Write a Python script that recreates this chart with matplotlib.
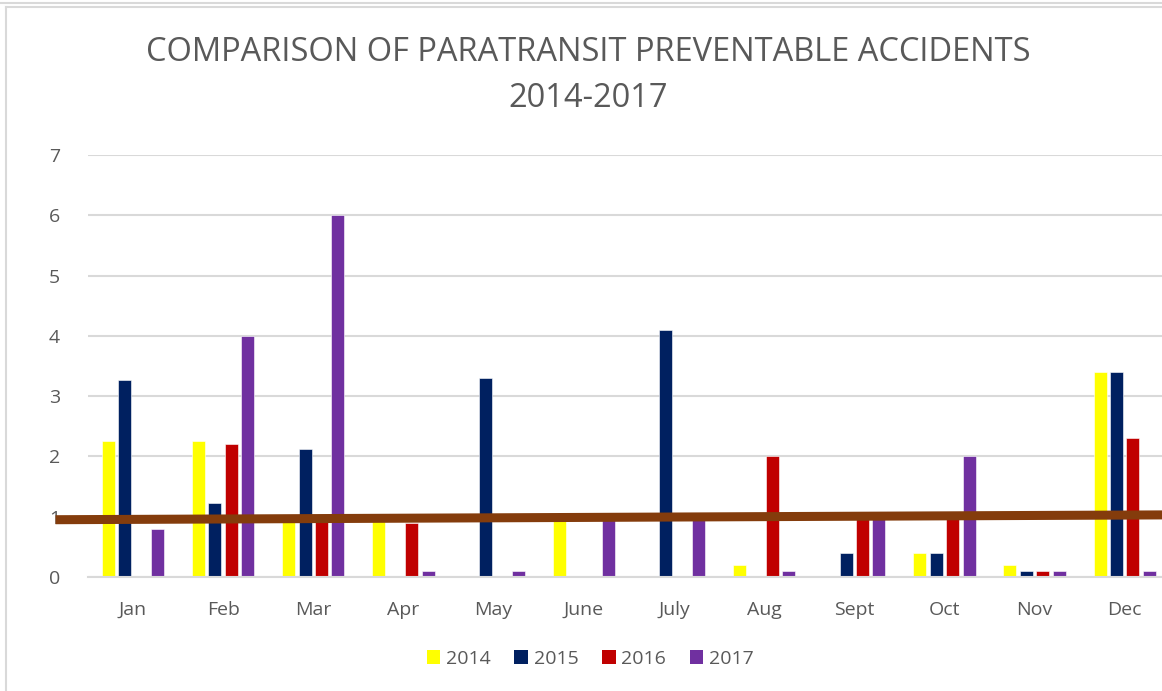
import matplotlib.pyplot as plt
import numpy as np
from matplotlib.lines import Line2D
from matplotlib.patches import Patch

plt.rcParams["font.family"] = ["Open Sans", "DejaVu Sans"]

months = ["Jan", "Feb", "Mar", "Apr", "May", "June", "July", "Aug", "Sept", "Oct", "Nov", "Dec"]
years = ["2014", "2015", "2016", "2017"]
acc_2014 = [2.25, 2.25, 1.0, 1.0, 0, 1.0, 0, 0.2, 0, 0.4, 0.2, 3.4]
acc_2015 = [3.27, 1.23, 2.12, 0, 3.3, 0, 4.1, 0, 0.4, 0.4, 0.1, 3.4]
acc_2016 = [0, 2.2, 1.0, 0.9, 0, 0, 0, 2.0, 1.0, 1.0, 0.1, 2.3]
acc_2017 = [0.8, 4.0, 6.0, 0.1, 0.1, 1.0, 1.0, 0.1, 1.0, 2.0, 0.1, 0.1]
series = [acc_2014, acc_2015, acc_2016, acc_2017]
colors = ["#FFFF00", "#002060", "#C00000", "#7030A0"]

# hand-drawn reference line across the chart
ref_x = [-0.86, 11.45]
ref_y = [0.95, 1.03]

grey = "#595959"
grid = "#D9D9D9"

fig = plt.figure(figsize=(11.62, 6.91), dpi=100)
ax = fig.add_axes([0.0757, 0.165, 0.931, 0.6107])

x = np.arange(len(months))
step = 0.182
width = 0.144
for i, (vals, color) in enumerate(zip(series, colors)):
    ax.bar(x + (i - 1.5) * step, vals, width=width, color=color, label=years[i], zorder=2,
           edgecolor="white", linewidth=0.4)

ax.plot(ref_x, ref_y, color="#843C0C", lw=6.5, solid_capstyle="butt", zorder=5, clip_on=False)

ax.set_xlim(-0.5, 11.5)
ax.set_ylim(0, 7)
ax.set_yticks(range(8))
ax.set_xticks(x)
ax.set_xticklabels(months)
ax.grid(axis="y", color=grid, lw=1.5, zorder=0)
ax.set_axisbelow(True)
for side in ["left", "right", "top"]:
    ax.spines[side].set_visible(False)
ax.spines["bottom"].set_color(grid)
ax.spines["bottom"].set_linewidth(1.5)
ax.tick_params(axis="both", length=0, labelsize=14, labelcolor=grey)
ax.tick_params(axis="y", pad=20)
ax.tick_params(axis="x", pad=17)

fig.text(0.506, 0.924, "COMPARISON OF PARATRANSIT PREVENTABLE ACCIDENTS",
         ha="center", va="center", fontsize=23.5, color=grey)
fig.text(0.506, 0.857, "2014-2017", ha="center", va="center", fontsize=23.5, color=grey)

handles = [Patch(facecolor=c) for c in colors]
fig.legend(handles, years, loc="center", bbox_to_anchor=(0.508, 0.047), ncol=4, frameon=False,
           fontsize=14, labelcolor=grey, handlelength=0.7, handleheight=0.7,
           handletextpad=0.3, columnspacing=1.2)

# outer frame lines
fig.add_artist(Line2D([0, 1], [1 - 2.5 / 691, 1 - 2.5 / 691], color=grid, lw=1.5))
fig.add_artist(Line2D([6 / 1162, 1], [1 - 6.5 / 691, 1 - 6.5 / 691], color=grid, lw=1.5))
fig.add_artist(Line2D([6 / 1162, 6 / 1162], [0, 1 - 6.5 / 691], color=grid, lw=1.5))

fig.savefig("out.png", dpi=100)
